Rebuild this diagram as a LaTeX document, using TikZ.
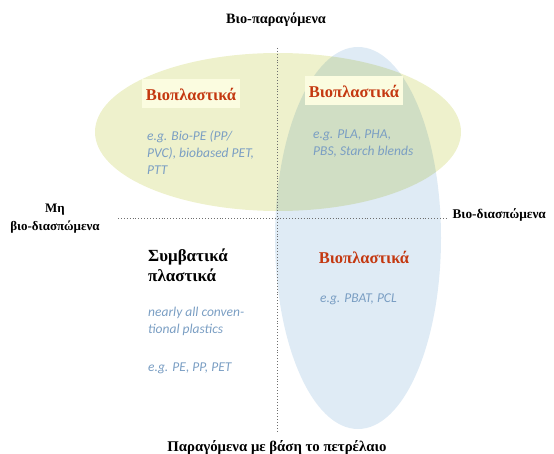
\documentclass[tikz,border=0pt]{standalone}
\usepackage{fontspec}
\setmainfont{Liberation Serif}
\newfontfamily\egfont{Carlito}
\usetikzlibrary{positioning}
\definecolor{bioRed}{RGB}{196,56,16}
\definecolor{egBlue}{RGB}{122,158,195}
\definecolor{bioYellow}{RGB}{238,241,204}
\definecolor{bioBlue}{RGB}{223,235,245}
\definecolor{labelYellow}{RGB}{251,252,224}
\definecolor{axisGray}{RGB}{110,110,110}

\begin{document}
\begin{tikzpicture}[x=1pt,y=-1pt,
    axislabel/.style={font=\bfseries\fontsize{#1}{18}\selectfont, align=center},
    axislabel/.default=13,
    bioplastic/.style={font=\bfseries\fontsize{16.5}{18}\selectfont, text=bioRed,
      fill=labelYellow, inner xsep=4pt, minimum height=29pt},
    example/.style={font=\egfont\itshape\fontsize{13.5}{17}\selectfont, text=egBlue,
      align=left, inner sep=0pt, anchor=base west},
    axisline/.style={axisGray, dotted, line width=0.9pt}]
  \useasboundingbox (0,0) rectangle (554,454);
  \fill[bioYellow] (278,132) ellipse [x radius=183, y radius=79];
  \fill[bioBlue, blend mode=multiply] (358,238) ellipse [x radius=83, y radius=191];
  \coordinate (axisTop) at (277,48);
  \coordinate (axisBottom) at (277,432);
  \coordinate (axisLeft) at (118,218);
  \coordinate (axisRight) at (448,218);
  \draw[axisline] (axisTop) -- (axisBottom);
  \draw[axisline] (axisLeft) -- (axisRight);
  \node[axislabel=14.3] (bioBased) at (276,20) {Βιο-παραγόμενα};
  \node[axislabel=14.8] (petroBased) at (277,448) {Παραγόμενα με βάση το πετρέλαιο};
  \node[axislabel] (nonDegradable) at (55,219) {Μη\\βιο-διασπώμενα};
  \node[axislabel=13.3, anchor=west] (degradable) at (449,215) {Βιο-διασπώμενα};
  \node[bioplastic] (bioTopLeft) at (191,94) {Βιοπλαστικά};
  \node[bioplastic] (bioTopRight) at (354,91) {Βιοπλαστικά};
  \node[bioplastic, fill=none] (bioBottomRight) at (364,257) {Βιοπλαστικά};
  \node[font=\bfseries\fontsize{17}{20}\selectfont, align=left, inner sep=0pt,
    anchor=base west] (conventional) at (148,282) {Συμβατικά\\πλαστικά};
  \node[example] (exTopLeft) at (147,175) {e.g. Bio-PE (PP/\\PVC), biobased PET,\\PTT};
  \node[example] (exTopRight) at (313,156) {e.g. PLA, PHA,\\PBS, Starch blends};
  \node[example] (exBottomRight) at (320,302) {e.g. PBAT, PCL};
  \node[example] (exConventional) at (148,333) {nearly all conven-\\tional plastics};
  \node[example] (exPetro) at (148,371) {e.g. PE, PP, PET};
\end{tikzpicture}
\end{document}
